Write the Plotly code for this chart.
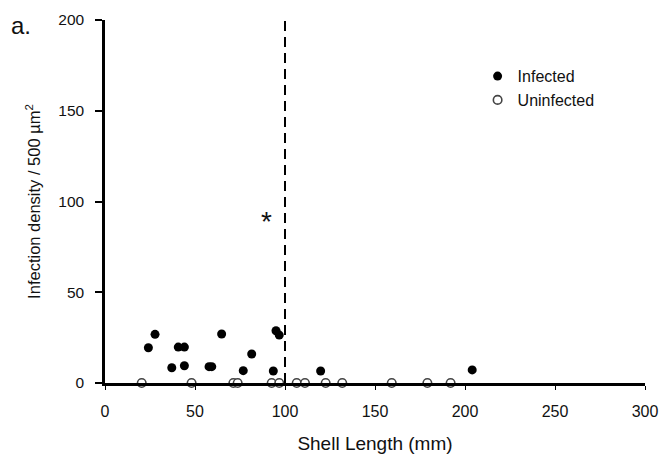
import plotly.graph_objects as go

# Shell length (mm) and infection density for infected animals
infected_length = [24.1, 27.8, 37.1, 40.7, 44.1, 44.1, 57.8, 59.3, 64.8,
                   76.8, 81.5, 93.5, 95.0, 96.8, 119.8, 204.0]
infected_density = [19.4, 26.8, 8.4, 19.8, 19.8, 9.5, 9.0, 9.0, 27.0,
                    6.8, 16.0, 6.6, 28.8, 26.4, 6.6, 7.2]

# Uninfected animals all sit at zero density
uninfected_length = [20.4, 48.1, 71.3, 73.7, 92.6, 96.8, 106.5, 111.1,
                     122.6, 131.8, 159.3, 179.1, 192.0]
uninfected_density = [0] * len(uninfected_length)

x_ticks = [0, 50, 100, 150, 200, 250, 300]
y_ticks = [0, 50, 100, 150, 200]
threshold_length = 100

FONT = "Liberation Sans, Arial, sans-serif"
INK = "#111111"

# plot-area geometry in pixels
L, R, T, B = 105, 18, 20, 72
W, H = 663, 455
PW, PH = W - L - R, H - T - B

fig = go.Figure()

fig.add_trace(go.Scatter(
    x=uninfected_length, y=uninfected_density, mode="markers",
    name="Uninfected", cliponaxis=False,
    marker=dict(symbol="circle", size=8.5, color="white",
                line=dict(color="#444444", width=1.6)),
))
fig.add_trace(go.Scatter(
    x=infected_length, y=infected_density, mode="markers",
    name="Infected", cliponaxis=False,
    marker=dict(symbol="circle", size=9, color="black",
                line=dict(color="black", width=0)),
))

# Dashed threshold at 100 mm
fig.add_shape(type="line", xref="x", yref="y",
              x0=threshold_length, x1=threshold_length, y0=0, y1=200,
              line=dict(color="black", width=2, dash="10px,6px"))

fig.add_annotation(x=89.5, y=89, xref="x", yref="y", text="*",
                   showarrow=False, font=dict(family=FONT, size=28, color=INK))

# panel letter, placed in pixel terms left of the plot area
fig.add_annotation(x=(21 - L) / PW, y=(H - B - 25) / PH,
                   xref="paper", yref="paper", text="a.",
                   xanchor="center", yanchor="middle", showarrow=False,
                   font=dict(family=FONT, size=24, color=INK))

fig.update_layout(
    width=W, height=H,
    margin=dict(l=L, r=R, t=T, b=B, autoexpand=False),
    paper_bgcolor="white", plot_bgcolor="white",
    font=dict(family=FONT, size=15, color=INK),
    showlegend=True,
    legend=dict(x=0.69, y=0.892, xanchor="left", yanchor="top",
                traceorder="reversed", bgcolor="rgba(0,0,0,0)",
                font=dict(family=FONT, size=16, color=INK),
                itemsizing="trace", tracegroupgap=0),
    xaxis=dict(
        range=[0, 300], tickvals=x_ticks, ticktext=[str(v) for v in x_ticks],
        showgrid=False, zeroline=False, showline=True, automargin=False,
        linecolor="black", linewidth=2.5,
        ticks="outside", ticklen=4, tickwidth=1.2, tickcolor="black",
        ticklabelstandoff=8, tickfont=dict(size=16),
        title=dict(text="Shell Length (mm)", standoff=18,
                   font=dict(family=FONT, size=19, color=INK)),
    ),
    yaxis=dict(
        range=[0, 200], tickvals=y_ticks, ticktext=[str(v) for v in y_ticks],
        showgrid=False, zeroline=False, showline=True, automargin=False,
        linecolor="black", linewidth=2.5,
        ticks="outside", ticklen=7, tickwidth=1.5, tickcolor="black",
        ticklabelstandoff=8, tickfont=dict(size=15.5),
        title=dict(text="Infection density / 500 µm<sup>2</sup>", standoff=14,
                   font=dict(family=FONT, size=16.5, color=INK)),
    ),
)

fig.write_html("out.html")
